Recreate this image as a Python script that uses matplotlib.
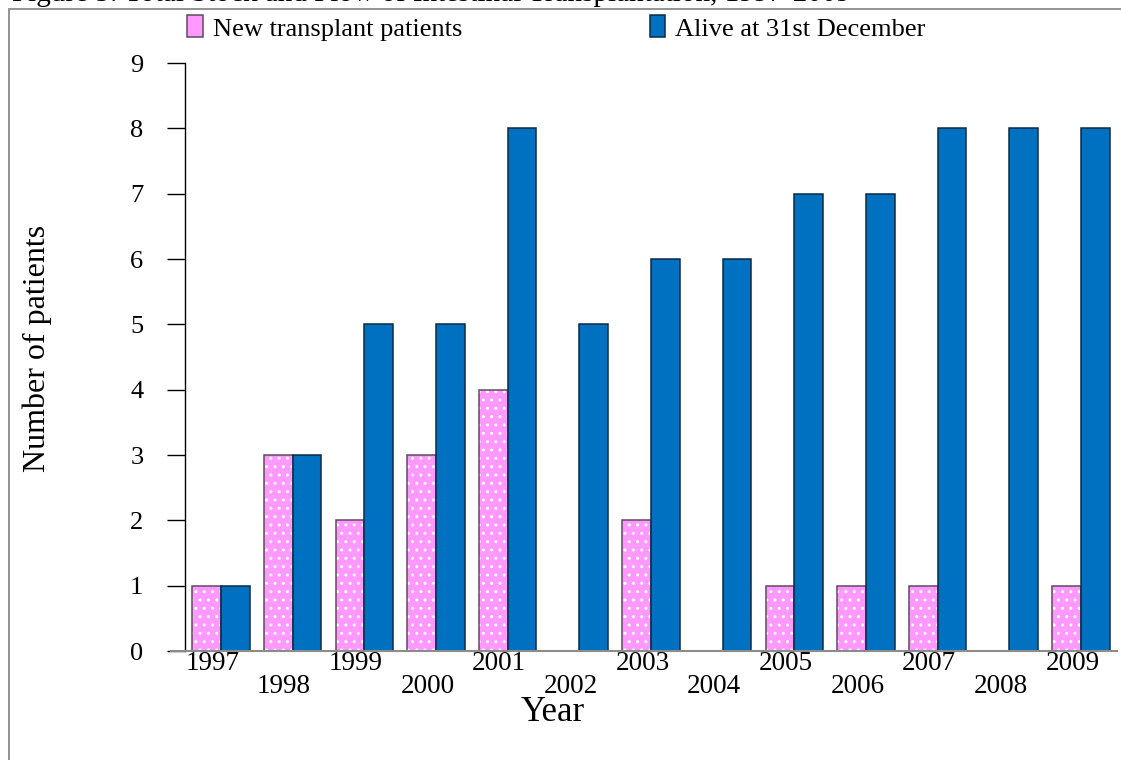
import matplotlib.pyplot as plt
import numpy as np
from matplotlib.patches import Rectangle
from matplotlib.lines import Line2D

years = ['1997', '1998', '1999', '2000', '2001', '2002', '2003',
         '2004', '2005', '2006', '2007', '2008', '2009']
new_patients = [1, 3, 2, 3, 4, 0, 2, 0, 1, 1, 1, 0, 1]
alive_dec = [1, 3, 5, 5, 8, 5, 6, 6, 7, 7, 8, 8, 8]

plt.rcParams['font.family'] = ['Liberation Serif', 'DejaVu Serif']

pink = '#FF99FF'
pink_edge = '#5E4A5E'
blue = '#0070C0'
blue_edge = '#0B2A45'

fig = plt.figure(figsize=(11.21, 7.6), dpi=100)
ax = fig.add_axes([185/1121, 1-651/760, (1117-185)/1121, (651-63)/760])

x = np.arange(len(years))
w = 0.4

# pink bars: fill + white dots, then outline on top
ax.bar(x - w/2, new_patients, w, color=pink, edgecolor='white', linewidth=0, hatch='..', zorder=2)
ax.bar(x - w/2, new_patients, w, fill=False, edgecolor=pink_edge, linewidth=1.1, zorder=3)
ax.bar(x + w/2, alive_dec, w, color=blue, edgecolor=blue_edge, linewidth=1.1, zorder=3)

ax.set_xlim(-0.5, len(years) - 0.5)
ax.set_ylim(0, 9)
ax.set_yticks(range(10))
ax.tick_params(axis='y', direction='out', length=13, width=1, pad=17, labelsize=19, colors='black')
ax.set_xticks([])
for s in ['top', 'right', 'bottom']:
    ax.spines[s].set_visible(False)
ax.spines['left'].set_linewidth(1)

# x axis line, extends a bit left of the y spine
ax.add_line(Line2D([171/1121, 1117/1121], [1-651/760, 1-651/760], transform=fig.transFigure,
                   color='#8C8C8C', lw=1.5, clip_on=False, zorder=4))

# staggered year labels
for i, yr in enumerate(years):
    yy = -0.0323 if i % 2 == 0 else -0.0714
    ax.text(i - 0.12, yy, yr, transform=ax.get_xaxis_transform(), ha='center', va='baseline', fontsize=19.5)

fig.text(553/1121, 1-721/760, 'Year', ha='center', va='baseline', fontsize=25)
fig.text(37/1121, 1-348/760, 'Number of patients', rotation=90, ha='center', va='center', fontsize=23)

# caption, cut off at the top edge as in the source
fig.text(12/1121, 1-1.0/760, 'Figure 5: Total Stock and Flow of Intestinal Transplantation, 1997-2009',
         ha='left', va='baseline', fontsize=21)

# outer frame
fig.patches.append(Rectangle((9/1121, -0.1), 1.2, 1.1 - 9/760, transform=fig.transFigure,
                             fill=False, edgecolor='#808080', lw=1.2))

handles = [Rectangle((0, 0), 1, 1, facecolor=pink, edgecolor=pink_edge, lw=1.1),
           Rectangle((0, 0), 1, 1, facecolor=blue, edgecolor=blue_edge, lw=1.1)]
fig.legend(handles, ['New transplant patients', 'Alive at 31st December'], loc='center left',
           bbox_to_anchor=(187/1121, 1-28/760), ncol=2, frameon=False, fontsize=19,
           handlelength=0.6, handleheight=0.9, handletextpad=0.38, columnspacing=7.1,
           borderaxespad=0, borderpad=0)

fig.savefig('out.png', dpi=100)
